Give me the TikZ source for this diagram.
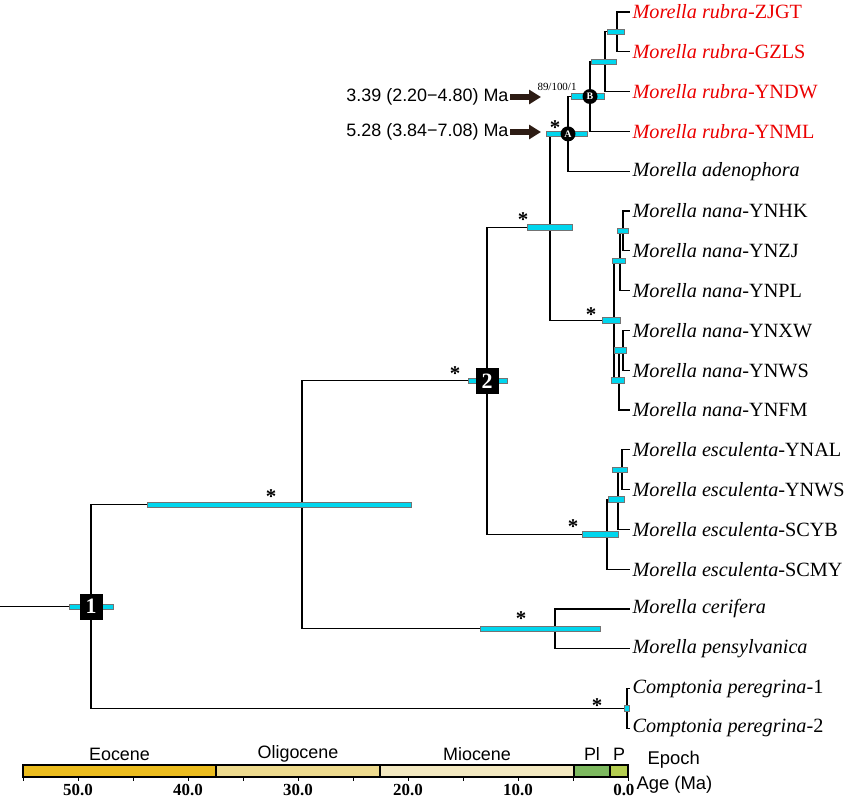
\documentclass[tikz,border=0pt]{standalone}
\usepackage{fontspec}
\setmainfont{Liberation Serif}
\setsansfont{Liberation Sans}
\usetikzlibrary{arrows.meta,calc,positioning,shapes}
\definecolor{hpd_blue}{RGB}{0, 214, 238}
\definecolor{my_red}{RGB}{235, 0, 0}
\definecolor{arrow_brown}{RGB}{45, 28, 20}
\definecolor{eoc_col}{RGB}{235, 188, 30}
\definecolor{oli_col}{RGB}{237, 218, 142}
\definecolor{mio_col}{RGB}{242, 232, 192}
\definecolor{pli_col}{RGB}{125, 185, 95}
\definecolor{ple_col}{RGB}{180, 205, 80}
\tikzset{
  taxon/.style = {anchor=west, inner sep=2bp, text=black, font=\fontsize{20.3}{21}\selectfont},
  taxon_r/.style = {taxon, text=my_red},
  hpd/.style = {fill=hpd_blue, draw=black!55, line width=0.5bp},
  sqnode/.style = {rectangle, fill=black, text=white, minimum width=23bp, minimum height=26bp,
  inner sep=0pt, font=\fontsize{22}{22}\selectfont\bfseries},
  circnode/.style = {circle, fill=black, text=white, minimum size=15bp, inner sep=0pt,
  font=\fontsize{10}{10}\selectfont\bfseries},
  supstar/.style = {inner sep=0pt, font=\fontsize{21}{21}\selectfont\bfseries},
  datelab/.style = {anchor=east, inner sep=1bp, font=\sffamily\fontsize{18}{18}\selectfont},
  fat_arrow/.style = {draw=arrow_brown, line width=5.5bp, -{Triangle[length=12bp,width=14bp]}}
}

\begin{document}
\begin{tikzpicture}[x=1bp,y=-1bp,line width=1.1bp,
        epochlab/.style={font=\sffamily\fontsize{18}{18}\selectfont, inner sep=0pt},
        agelab/.style={font=\fontsize{17}{17}\selectfont\bfseries, inner sep=0pt},
        scalelab/.style={anchor=west, inner sep=0pt, font=\sffamily\fontsize{18.5}{19}\selectfont}]
        \useasboundingbox (0,0) rectangle (849,800);
        % tips
        \node [taxon_r] (t0) at (630,12) {\textit{Morella rubra}-ZJGT};
        \node [taxon_r] (t1) at (630,51.8) {\textit{Morella rubra}-GZLS};
        \node [taxon_r] (t2) at (630,91.6) {\textit{Morella rubra}-YNDW};
        \node [taxon_r] (t3) at (630,131.4) {\textit{Morella rubra}-YNML};
        \node [taxon] (t4) at (630,171.2) {\textit{Morella adenophora}};
        \node [taxon] (t5) at (630,211) {\textit{Morella nana}-YNHK};
        \node [taxon] (t6) at (630,250.8) {\textit{Morella nana}-YNZJ};
        \node [taxon] (t7) at (630,290.6) {\textit{Morella nana}-YNPL};
        \node [taxon] (t8) at (630,330.4) {\textit{Morella nana}-YNXW};
        \node [taxon] (t9) at (630,370.2) {\textit{Morella nana}-YNWS};
        \node [taxon] (t10) at (630,410) {\textit{Morella nana}-YNFM};
        \node [taxon] (t11) at (630,449.8) {\textit{Morella esculenta}-YNAL};
        \node [taxon] (t12) at (630,489.6) {\textit{Morella esculenta}-YNWS};
        \node [taxon] (t13) at (630,529.4) {\textit{Morella esculenta}-SCYB};
        \node [taxon] (t14) at (630,569.2) {\textit{Morella esculenta}-SCMY};
        \node [taxon] (t15) at (630,609) {\textit{Morella cerifera}};
        \node [taxon] (t16) at (630,648.8) {\textit{Morella pensylvanica}};
        \node [taxon] (t17) at (630,688.6) {\textit{Comptonia peregrina}-1};
        \node [taxon] (t18) at (630,728.4) {\textit{Comptonia peregrina}-2};
        % internal nodes
        \coordinate (rb_zg) at (617,31.9);
        \coordinate (rb_zgd) at (605,61.7);
        \coordinate (rb_B) at (590,96.5);
        \coordinate (rb_A) at (568,133.9);
        \coordinate (rb_an) at (550,227.2);
        \coordinate (na_hz) at (623,230.9);
        \coordinate (na_hzp) at (620,260.75);
        \coordinate (na_xw) at (623,350.3);
        \coordinate (na_xwf) at (619,380.2);
        \coordinate (na_root) at (614,320.5);
        \coordinate (es_aw) at (622,469.7);
        \coordinate (es_aws) at (618,499.5);
        \coordinate (es_root) at (607,534.4);
        \coordinate (nd_2) at (487,380.8);
        \coordinate (ce_root) at (555,628.9);
        \coordinate (nd_3) at (302,504.8);
        \coordinate (co_root) at (627,708.5);
        \coordinate (nd_1) at (91,606.7);
        \coordinate (root) at (0,606.7);
        % branches
        \draw (root) -- (nd_1);
        \draw (nd_1) |- (nd_3);
        \draw (nd_1) |- (co_root);
        \draw (nd_3) |- (nd_2);
        \draw (nd_3) |- (ce_root);
        \draw (nd_2) |- (rb_an);
        \draw (nd_2) |- (es_root);
        \draw (rb_an) |- (rb_A);
        \draw (rb_an) |- (na_root);
        \draw (rb_A) |- (rb_B);
        \draw (rb_A) |- (t4.west);
        \draw (rb_B) |- (rb_zgd);
        \draw (rb_B) |- (t3.west);
        \draw (rb_zgd) |- (rb_zg);
        \draw (rb_zgd) |- (t2.west);
        \draw (rb_zg) |- (t0.west);
        \draw (rb_zg) |- (t1.west);
        \draw (na_root) |- (na_hzp);
        \draw (na_root) |- (na_xwf);
        \draw (na_hzp) |- (na_hz);
        \draw (na_hzp) |- (t7.west);
        \draw (na_hz) |- (t5.west);
        \draw (na_hz) |- (t6.west);
        \draw (na_xwf) |- (na_xw);
        \draw (na_xwf) |- (t10.west);
        \draw (na_xw) |- (t8.west);
        \draw (na_xw) |- (t9.west);
        \draw (es_root) |- (es_aws);
        \draw (es_root) |- (t14.west);
        \draw (es_aws) |- (es_aw);
        \draw (es_aws) |- (t13.west);
        \draw (es_aw) |- (t11.west);
        \draw (es_aw) |- (t12.west);
        \draw (ce_root) |- (t15.west);
        \draw (ce_root) |- (t16.west);
        \draw (co_root) |- (t17.west);
        \draw (co_root) |- (t18.west);
        % 95% HPD bars
        \foreach \xa/\xb/\yy in {607/624/31.9, 591/616/61.7, 571/604/96.5, 546/587/133.9,
            527/572/227.2, 617/628/230.9, 612/625/260.75, 602/620/320.5, 614/626/350.3,
            611/624/380.2, 612/627/469.7, 608/624/499.5, 582/618/534.4, 468/507/380.8,
            147/411/504.8, 480/600/628.9, 69/113/606.7, 624/629/708.5}
            \draw [hpd] (\xa,\yy-2.8) rectangle (\xb,\yy+2.8);
        % labelled nodes
        \node [sqnode] (lab_1) at (nd_1) {1};
        \node [sqnode] (lab_2) at (nd_2) {2};
        \node [circnode] (lab_A) at (rb_A) {A};
        \node [circnode] (lab_B) at (rb_B) {B};
        % support
        \foreach \sx/\sy in {555/124, 523/216, 591/311, 455/370, 271/493, 573/523, 521/615, 597/702}
            \node [supstar] at (\sx,\sy+4) {*};
        \node [inner sep=0pt, font=\fontsize{11}{11}\selectfont] (sup_B) at (557,87) {89/100/1};
        % ages
        \node [datelab] (age_B) at (510,97) {3.39 (2.20−4.80) Ma};
        \node [datelab] (age_A) at (510,132) {5.28 (3.84−7.08) Ma};
        \coordinate (arr_B) at (541,97);
        \coordinate (arr_A) at (541,132);
        \draw [fat_arrow] (age_B.east) -- (arr_B);
        \draw [fat_arrow] (age_A.east) -- (arr_A);
        % time scale
        \draw [fill=eoc_col, line width=1.4bp] (23,765) rectangle (216,777);
        \draw [fill=oli_col, line width=1.4bp] (216,765) rectangle (380,777);
        \draw [fill=mio_col, line width=1.4bp] (380,765) rectangle (574,777);
        \draw [fill=pli_col, line width=1.4bp] (574,765) rectangle (610,777);
        \draw [fill=ple_col, line width=1.4bp] (610,765) rectangle (628,777);
        \node [epochlab] at (119.5,754) {Eocene};
        \node [epochlab] at (298,754) {Oligocene};
        \node [epochlab] at (477,754) {Miocene};
        \node [epochlab] at (592,754) {Pl};
        \node [epochlab] at (619,754) {P};
        \foreach \k in {0,...,11}
            \draw [line width=1bp] (628-55*\k,777) -- ++(0,4);
        \foreach \a in {10,20,...,50}
            \node [agelab] at (628-11*\a,789.5) {\a.0};
        \node [agelab, anchor=east] at (635,789.5) {0.0};
        \node [scalelab] at (647,760) {Epoch};
        \node [scalelab] at (636,785) {Age (Ma)};
\end{tikzpicture}
\end{document}
